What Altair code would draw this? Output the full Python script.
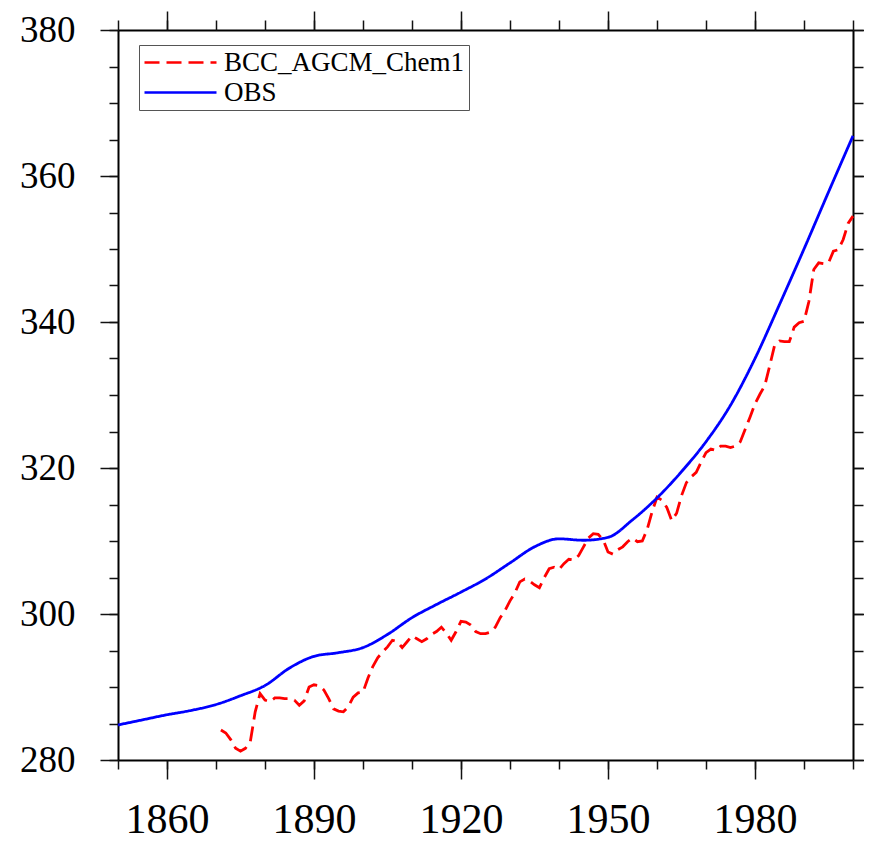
import altair as alt
import pandas as pd

# ---- data ----
obs_years = list(range(1850, 2001, 5))
obs_values = [284.8, 285.5, 286.2, 286.8, 287.6, 288.8, 290.2, 292.6, 294.2, 294.7,
              295.4, 297.2, 299.5, 301.3, 303.0, 304.8, 307.0, 309.2, 310.3, 310.1,
              310.5, 312.9, 315.9, 319.5, 323.6, 328.6, 335.0, 342.4, 350.0, 357.8,
              365.5]

model_years = list(range(1871, 2001))
model_values = [
    284.1, 283.7, 282.8, 281.6, 281.2, 281.6, 282.5, 286.6, 289.1, 288.2,
    288.0, 288.5, 288.5, 288.4, 288.4, 288.2, 287.5, 288.1, 290.0, 290.3,
    290.2, 289.6, 288.4, 287.0, 286.7, 286.6, 287.3, 288.6, 289.2, 289.3,
    291.2, 292.8, 294.0, 294.8, 295.5, 296.4, 296.2, 295.4, 296.2, 297.0,
    296.6, 296.2, 296.6, 297.2, 297.6, 298.2, 297.4, 296.4, 297.6, 299.0,
    298.9, 298.5, 297.6, 297.3, 297.3, 297.5, 298.2, 299.5, 300.5, 301.8,
    302.9, 304.4, 304.8, 304.5, 304.0, 303.6, 305.0, 306.2, 306.4, 306.1,
    306.9, 307.5, 307.4, 308.0, 309.2, 310.4, 311.0, 310.9, 310.2, 308.5,
    308.2, 308.8, 309.2, 309.9, 310.4, 309.9, 310.0, 311.6, 314.0, 316.0,
    315.6, 314.6, 312.8, 313.8, 316.2, 318.0, 318.8, 319.4, 320.8, 322.1,
    322.6, 322.4, 323.0, 323.0, 322.8, 323.0, 323.6, 325.3, 327.0, 328.8,
    330.1, 331.3, 334.0, 336.8, 337.4, 337.3, 337.3, 339.3, 339.9, 340.1,
    342.8, 347.2, 348.1, 348.0, 348.1, 349.7, 349.9, 351.3, 353.5, 354.5,
]

series_names = ["BCC_AGCM_Chem1", "OBS"]
series_colors = ["#ff0000", "#0000ff"]

x_major = [1860, 1890, 1920, 1950, 1980]
x_minor = list(range(1850, 2001, 10))
y_major = list(range(280, 381, 20))
y_minor = list(range(280, 381, 5))

df = pd.concat([
    pd.DataFrame({"year": model_years, "value": model_values, "series": series_names[0]}),
    pd.DataFrame({"year": obs_years, "value": obs_values, "series": series_names[1]}),
], ignore_index=True)

FONT = "Liberation Serif"
xs = alt.Scale(domain=[1850, 2000], nice=False, zero=False)
ys = alt.Scale(domain=[280, 380], nice=False, zero=False)

def ax(orient, values, size, labels=False, domain=False, **kw):
    return alt.Axis(orient=orient, values=values, tickSize=size, labels=labels,
                    domain=domain, domainColor="black", domainWidth=2,
                    tickColor="#111", tickWidth=1.5, grid=False, title=None,
                    labelFont=FONT, labelColor="black", labelOverlap=False,
                    labelFlush=False, **kw)

legend = alt.Legend(title=None, orient="none", legendX=21, legendY=15,
                    strokeColor="#555", fillColor="white", padding=4,
                    labelFont=FONT, labelFontSize=27, labelColor="black",
                    labelLimit=0, clipHeight=27,
                    symbolSize=5184, symbolStrokeWidth=2.5, labelOffset=6,
                    rowPadding=2, symbolType="stroke")

color_enc = alt.Color("series:N", scale=alt.Scale(domain=series_names, range=series_colors), legend=legend)
dash_enc = alt.StrokeDash("series:N", scale=alt.Scale(domain=series_names, range=[[15, 7], [1, 0]]), legend=legend)

base = alt.Chart(df)

lines_model = base.transform_filter(alt.datum.series == series_names[0]).mark_line(
    strokeWidth=2.8).encode(
    x=alt.X("year:Q", scale=xs,
            axis=ax("bottom", x_major, 19, labels=True, domain=True,
                    labelPadding=20, labelFontSize=42, format="d")),
    y=alt.Y("value:Q", scale=ys,
            axis=ax("left", y_major, 18, labels=True, domain=True,
                    labelPadding=25, labelFontSize=37)),
    color=color_enc,
    strokeDash=dash_enc,
)

lines_obs = base.transform_filter(alt.datum.series == series_names[1]).mark_line(
    strokeWidth=2.8, interpolate="monotone").encode(
    x=alt.X("year:Q", scale=xs, axis=None),
    y=alt.Y("value:Q", scale=ys, axis=None),
    color=color_enc,
    strokeDash=dash_enc,
)

minor_bl = base.mark_point(opacity=0).encode(
    x=alt.X("year:Q", scale=xs, axis=ax("bottom", x_minor, 9)),
    y=alt.Y("value:Q", scale=ys, axis=ax("left", y_minor, 9)),
)
major_tr = base.mark_point(opacity=0).encode(
    x=alt.X("year:Q", scale=xs, axis=ax("top", x_major, 19, domain=True)),
    y=alt.Y("value:Q", scale=ys, axis=ax("right", y_major, 19, domain=True)),
)
minor_tr = base.mark_point(opacity=0).encode(
    x=alt.X("year:Q", scale=xs, axis=ax("top", x_minor, 10)),
    y=alt.Y("value:Q", scale=ys, axis=ax("right", y_minor, 10)),
)

chart = alt.layer(lines_model, lines_obs, minor_bl, major_tr, minor_tr).resolve_axis(
    x="independent", y="independent"
).properties(
    width=735, height=730,
    padding={"left": 110, "top": 22, "right": 11, "bottom": 82},
    autosize=alt.AutoSizeParams(type="none"),
    background="white",
).configure_view(stroke=None)

chart.save("out.html", embed_options={"renderer": "svg", "actions": False})
